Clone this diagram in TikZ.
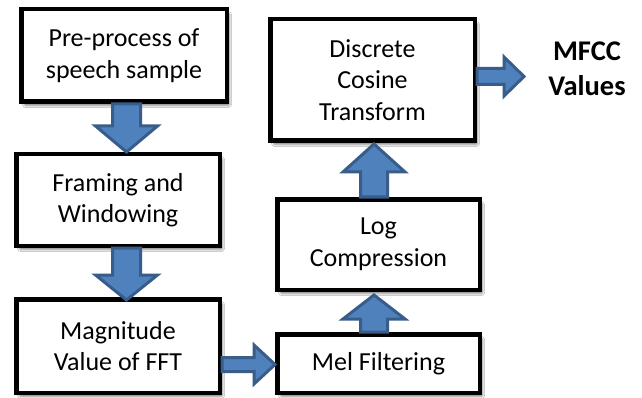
\documentclass[tikz,border=0pt]{standalone}
\usepackage{fontspec}
\setmainfont{Carlito}
\usetikzlibrary{calc,shadows.blur}
\definecolor{arrfill}{HTML}{4F81BD}
\definecolor{arrdraw}{HTML}{385D8A}
\newcommand\blockarrow[5]{%
  \path ($(#2)!#5!(#1)$) coordinate (hb);
  \draw[arr] ($(#1)!#3!90:(#2)$) -- ($(hb)!#3!90:(#2)$) -- ($(hb)!#4!90:(#2)$)
    -- (#2) -- ($(hb)!#4!-90:(#2)$) -- ($(hb)!#3!-90:(#2)$) -- ($(#1)!#3!-90:(#2)$) -- cycle;}
\tikzset{
  box/.style={draw=black, line width=4.5pt, fill=white, align=center, inner sep=0pt,
    font=\fontsize{26}{31.5}\selectfont,
    blur shadow={shadow xshift=3pt, shadow yshift=-4pt, shadow blur steps=6, shadow blur extra rounding=2pt, shadow opacity=45}},
  arr/.style={draw=arrdraw, fill=arrfill, line width=3pt, line join=miter},
}
\begin{document}
\begin{tikzpicture}[x=1pt,y=-1pt]
\useasboundingbox[fill=white] (0,0) rectangle (642,398);
\node[box, minimum width=205.5pt, minimum height=92.5pt] (b1) at (124,55.5) {Pre-process of\\speech sample};
\node[box, minimum width=203.5pt, minimum height=91.5pt] (b2) at (118,200) {Framing and\\Windowing};
\node[box, minimum width=203.5pt, minimum height=93.5pt] (b3) at (118,346) {Magnitude\\Value of FFT};
\node[box, minimum width=202.5pt, minimum height=58.5pt] (b4) at (378.5,363.5) {Mel Filtering};
\node[box, minimum width=202.5pt, minimum height=90.5pt] (b5) at (378.5,244.5) {Log\\Compression};
\node[box, minimum width=204.5pt, minimum height=121.5pt] (b6) at (372.5,80) {Discrete\\Cosine\\Transform};
\node[align=center, font=\fontsize{28.5}{35}\selectfont\bfseries, inner sep=0pt] (out) at (587,69) {MFCC\\Values};
% connectors
\coordinate (a1s) at ($(b1.south)+(2.5,0)$);
\coordinate (a1e) at ($(b2.north)+(8.5,0)$);
\blockarrow{a1s}{a1e}{14pt}{31pt}{26pt}
\coordinate (a2s) at ($(b2.south)+(8.5,0)$);
\coordinate (a2e) at ($(b3.north)+(8.5,3)$);
\blockarrow{a2s}{a2e}{14pt}{31pt}{25pt}
\coordinate (a3s) at ($(b3.east)+(0,18.5)$);
\coordinate (a3e) at ($(b4.west)+(0,1)$);
\blockarrow{a3s}{a3e}{7pt}{19.5pt}{21pt}
\coordinate (a4s) at ($(b4.north)+(-4.5,0)$);
\coordinate (a4e) at ($(b5.south)+(-4.5,3)$);
\blockarrow{a4s}{a4e}{13.5pt}{31pt}{24pt}
\coordinate (a5s) at ($(b5.north)+(-4.5,0)$);
\coordinate (a5e) at ($(b6.south)+(1.5,1)$);
\blockarrow{a5s}{a5e}{13.5pt}{31pt}{28pt}
\coordinate (a6s) at ($(b6.east)+(0,-3.5)$);
\coordinate (a6e) at ($(b6.east)+(47,-3.5)$);
\blockarrow{a6s}{a6e}{8pt}{19.5pt}{20pt}
\end{tikzpicture}
\end{document}
